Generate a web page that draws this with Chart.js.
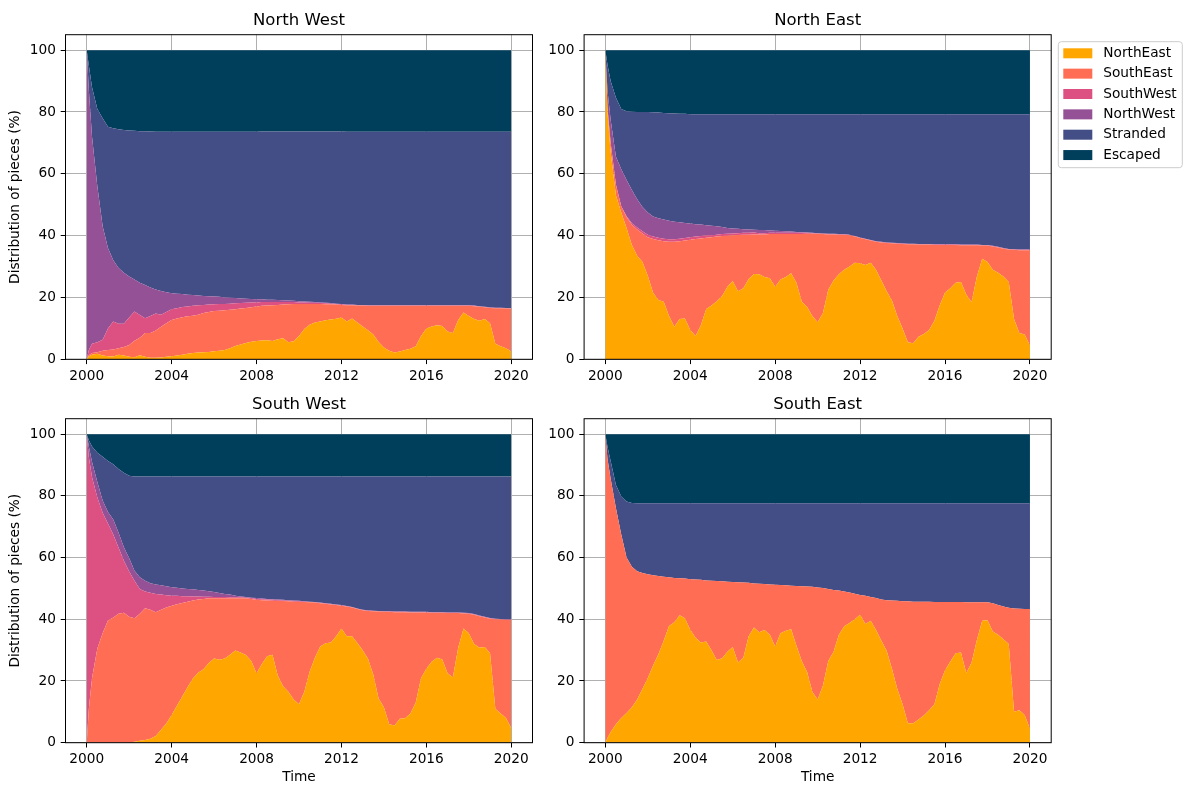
<!DOCTYPE html>
<html>
<head>
<meta charset="utf-8">
<title>Distribution of pieces</title>
<script src="https://cdn.jsdelivr.net/npm/chart.js@4.4.1/dist/chart.umd.min.js"></script>
<style>
    body { margin: 0; background: #fff; }
    #figure { position: relative; width: 1190px; height: 789px; overflow: hidden; }
    #figure canvas { position: absolute; }
</style>
</head>
<body>
<div id="figure">
    <canvas id="north-west" width="560" height="400" style="left:0;top:0"></canvas>
    <canvas id="north-east" width="650" height="400" style="left:540px;top:0"></canvas>
    <canvas id="south-west" width="560" height="400" style="left:0;top:389px"></canvas>
    <canvas id="south-east" width="560" height="400" style="left:540px;top:389px"></canvas>
</div>
<script>
const years = [
    2000, 2000.1, 2000.25, 2000.5, 2000.75,
    2001, 2001.25, 2001.5, 2001.75, 2002, 2002.25, 2002.5, 2002.75,
    2003, 2003.25, 2003.5, 2003.75, 2004, 2004.25, 2004.5, 2004.75,
    2005, 2005.25, 2005.5, 2005.75, 2006, 2006.25, 2006.5, 2006.75,
    2007, 2007.25, 2007.5, 2007.75, 2008, 2008.25, 2008.5, 2008.75,
    2009, 2009.25, 2009.5, 2009.75, 2010, 2010.25, 2010.5, 2010.75,
    2011, 2011.25, 2011.5, 2011.75, 2012, 2012.25, 2012.5, 2012.75,
    2013, 2013.25, 2013.5, 2013.75, 2014, 2014.25, 2014.5, 2014.75,
    2015, 2015.25, 2015.5, 2015.75, 2016, 2016.25, 2016.5, 2016.75,
    2017, 2017.25, 2017.5, 2017.75, 2018, 2018.25, 2018.5, 2018.75,
    2019, 2019.25, 2019.5, 2019.75, 2020
];

const regions = ['NorthEast', 'SouthEast', 'SouthWest', 'NorthWest', 'Stranded', 'Escaped'];
const regionColors = ['#ffa600', '#ff6e54', '#dd5182', '#955196', '#444e86', '#003f5c'];
const xTicks = [2000, 2004, 2008, 2012, 2016, 2020];
const yTicks = [0, 20, 40, 60, 80, 100];

// released in the North West
const nwNorthEast = [
    0, 1, 1.5, 1.8, 1.2, 1, 0.9, 1.5, 1.2, 0.8,
    0.7, 1.3, 0.8, 0.5, 0.5, 0.6, 0.8, 1, 1.2, 1.5,
    1.8, 2, 2.2, 2.3, 2.4, 2.6, 2.8, 3, 3.6, 4.3,
    4.8, 5.3, 5.7, 5.9, 6.1, 6.2, 5.9, 6.5, 6.8, 5.5,
    5.8, 7.5, 9.8, 11.2, 11.9, 12.2, 12.6, 12.9, 13.1, 13.5,
    12.2, 13.2, 11.9, 10.6, 9.4, 8, 5.6, 3.8, 2.8, 2.2,
    2.5, 3, 3.4, 4.2, 7.5, 10, 10.6, 11, 10.8, 9,
    8.5, 12.7, 15.1, 14, 13, 12.5, 13, 11.7, 5, 4.2,
    3.6, 2.5
];
const nwSouthEast = [
    0, 0.3, 0.5, 0.5, 1.6, 2, 2.3, 2.1, 2.8, 3.8,
    5.3, 5.7, 7.7, 8, 8.8, 9.9, 10.9, 11.7, 12, 12.1,
    12.1, 12.1, 12.2, 12.7, 12.9, 13, 12.9, 12.9, 12.4, 11.9,
    11.6, 11.3, 11.1, 11.2, 11.2, 11.2, 11.6, 11.1, 10.9, 12.3,
    12.1, 10.4, 8.1, 6.7, 6, 5.7, 5.2, 4.9, 4.6, 4.1,
    5.3, 4.3, 5.5, 6.8, 7.9, 9.3, 11.7, 13.5, 14.5, 15.1,
    14.8, 14.3, 13.9, 13.1, 9.8, 7.3, 6.7, 6.3, 6.5, 8.3,
    8.8, 4.6, 2.2, 3.3, 4.2, 4.5, 3.8, 4.9, 11.5, 12.3,
    12.8, 13.9
];
const nwSouthWest = [
    0, 1.7, 3, 3.2, 3.5, 7, 9, 7.9, 7.5, 8.9,
    9.5, 7.3, 4.8, 5.5, 5.5, 3.9, 3.6, 3.5, 3.3, 3.3,
    3.2, 3.2, 3.1, 2.6, 2.4, 2.2, 2.2, 2, 2, 1.9,
    1.8, 1.7, 1.6, 1.3, 1.2, 1.1, 1, 0.9, 0.8, 0.7,
    0.6, 0.5, 0.5, 0.4, 0.4, 0.3, 0.3, 0.2, 0.2, 0.2,
    0.1, 0.1, 0.1, 0.1, 0.1, 0.1, 0.1, 0.1, 0.1, 0.1,
    0.1, 0.1, 0.1, 0.1, 0.1, 0.1, 0.1, 0.1, 0.1, 0.1,
    0.1, 0.1, 0.1, 0.1, 0.1, 0.1, 0.1, 0.1, 0.1, 0.1,
    0.1, 0.1
];
const nwNorthWest = [
    100, 84, 67, 50.5, 36.7, 26, 19.8, 18, 16.5, 13.3,
    10.3, 10.5, 10.7, 9.2, 7.8, 7.7, 6.4, 5.2, 4.7, 4.2,
    3.8, 3.5, 3.1, 2.9, 2.7, 2.5, 2.3, 2.1, 1.9, 1.7,
    1.5, 1.3, 1.1, 1, 0.9, 0.8, 0.8, 0.7, 0.6, 0.5,
    0.4, 0.4, 0.3, 0.3, 0.2, 0.2, 0.2, 0.2, 0.1, 0.1,
    0.1, 0.1, 0.1, 0.1, 0.1, 0.1, 0.1, 0.1, 0.1, 0.1,
    0.1, 0.1, 0.1, 0.1, 0.1, 0.1, 0.1, 0.1, 0.1, 0.1,
    0.1, 0.1, 0.1, 0.1, 0.1, 0.1, 0.1, 0.1, 0.1, 0.1,
    0.1, 0.1
];
const nwStranded = [
    0, 8, 16, 25, 35, 39.2, 42.7, 44.9, 46.2, 47.2,
    48.1, 49, 49.8, 50.5, 51, 51.5, 51.9, 52.2, 52.4, 52.5,
    52.7, 52.8, 53, 53.1, 53.2, 53.3, 53.4, 53.6, 53.7, 53.8,
    53.9, 54, 54.1, 54.2, 54.3, 54.4, 54.4, 54.5, 54.6, 54.7,
    54.8, 54.9, 55, 55.1, 55.2, 55.3, 55.4, 55.5, 55.7, 55.8,
    55.9, 55.9, 56, 56, 56.1, 56.1, 56.1, 56.1, 56.1, 56.1,
    56.1, 56.1, 56.1, 56.1, 56.1, 56.1, 56.1, 56.1, 56.1, 56.1,
    56.1, 56.1, 56.1, 56.1, 56.2, 56.4, 56.6, 56.8, 56.9, 56.9,
    57, 57
];
const nwEscaped = [
    0, 5, 12, 19, 22, 24.8, 25.3, 25.6, 25.8, 26,
    26.1, 26.2, 26.2, 26.3, 26.4, 26.4, 26.4, 26.4, 26.4, 26.4,
    26.4, 26.4, 26.4, 26.4, 26.4, 26.4, 26.4, 26.4, 26.4, 26.4,
    26.4, 26.4, 26.4, 26.4, 26.3, 26.3, 26.3, 26.3, 26.3, 26.3,
    26.3, 26.3, 26.3, 26.3, 26.3, 26.3, 26.3, 26.3, 26.3, 26.3,
    26.4, 26.4, 26.4, 26.4, 26.4, 26.4, 26.4, 26.4, 26.4, 26.4,
    26.4, 26.4, 26.4, 26.4, 26.4, 26.4, 26.4, 26.4, 26.4, 26.4,
    26.4, 26.4, 26.4, 26.4, 26.4, 26.4, 26.4, 26.4, 26.4, 26.4,
    26.4, 26.4
];

// released in the North East
const neNorthEast = [
    100, 80, 67, 53, 47.5, 42.5, 37, 33.5, 31.5, 27,
    21.5, 19.2, 18.6, 14, 10.5, 13, 13.2, 9.5, 7.5, 11,
    16.3, 17.4, 18.8, 20.5, 23.5, 25.3, 22, 23, 26, 27.6,
    27.5, 26.6, 26.2, 23.5, 25.8, 26.6, 27.8, 24.8, 18.7, 17,
    14, 12, 15, 22.5, 25.5, 27.5, 29, 30, 31.2, 31.1,
    30.5, 31.2, 29, 25.5, 22, 19, 14, 10, 5.5, 5.2,
    7.3, 8.2, 9.5, 12.5, 17.5, 21.6, 23, 24.8, 25, 21,
    18.5, 26.8, 32.5, 31.5, 29, 28, 26.8, 25, 13, 8.5,
    8, 4.5
];
const neSouthEast = [
    0, 1.5, 3, 3.5, 2, 3.5, 6.5, 8.5, 9.2, 12.5,
    17.4, 19.3, 19.6, 24, 27.5, 25.2, 25.2, 29.2, 31.4, 28.1,
    23, 22.1, 20.9, 19.4, 16.5, 14.8, 18.2, 17.3, 14.3, 12.8,
    12.9, 13.8, 14.3, 17, 14.7, 13.9, 12.7, 15.7, 21.8, 23.6,
    26.6, 28.6, 25.5, 17.9, 14.9, 12.8, 11.3, 10.1, 8.5, 8.1,
    8.3, 7.2, 9, 12.3, 15.6, 18.5, 23.4, 27.3, 31.7, 32,
    29.8, 28.9, 27.6, 24.5, 19.5, 15.4, 14, 12.2, 11.9, 15.9,
    18.4, 10.1, 4.3, 5.3, 7.5, 8.2, 9, 10.5, 22.4, 26.8,
    27.3, 30.8
];
const neSouthWest = [
    0, 0, 0, 0, 0, 0.3, 0.5, 0.6, 0.7, 0.8,
    0.8, 0.8, 0.8, 0.8, 0.8, 0.8, 0.8, 0.8, 0.8, 0.8,
    0.8, 0.6, 0.6, 0.6, 0.6, 0.6, 0.6, 0.6, 0.6, 0.6,
    0.4, 0.4, 0.4, 0.4, 0.4, 0.4, 0.4, 0.4, 0.4, 0.3,
    0.2, 0.1, 0.1, 0.1, 0.1, 0.1, 0.1, 0.1, 0.1, 0.1,
    0.1, 0.1, 0.1, 0.1, 0.1, 0.1, 0.1, 0.1, 0.1, 0.1,
    0.1, 0.1, 0.1, 0.1, 0.1, 0.1, 0.1, 0.1, 0.1, 0.1,
    0.1, 0.1, 0.1, 0.1, 0.1, 0.1, 0.1, 0.1, 0.1, 0.1,
    0.1, 0.1
];
const neNorthWest = [
    0, 5.5, 7.5, 9, 12, 11.7, 10.8, 9.2, 7.9, 7.2,
    6.5, 6.3, 6.2, 6, 5.7, 5.3, 4.9, 4.4, 4, 3.7,
    3.3, 3.1, 2.7, 2.3, 1.9, 1.6, 1.4, 1.2, 1.1, 0.9,
    1, 1, 0.8, 0.7, 0.6, 0.5, 0.4, 0.3, 0.2, 0.1,
    0.1, 0.1, 0.1, 0.1, 0.1, 0.1, 0.1, 0.1, 0.1, 0.1,
    0.1, 0.1, 0.1, 0.1, 0.1, 0.1, 0.1, 0.1, 0.1, 0.1,
    0.1, 0.1, 0.1, 0.1, 0.1, 0.1, 0.1, 0.1, 0.1, 0.1,
    0.1, 0.1, 0.1, 0.1, 0.1, 0.1, 0.1, 0.1, 0.1, 0.1,
    0.1, 0.1
];
const neStranded = [
    0, 8.4, 12.5, 19.1, 19.5, 22.2, 25.3, 28.2, 30.7, 32.5,
    33.7, 34.2, 34.5, 34.8, 35, 35.1, 35.3, 35.4, 35.6, 35.7,
    35.9, 36.1, 36.3, 36.5, 36.8, 37, 37.1, 37.2, 37.3, 37.4,
    37.5, 37.5, 37.6, 37.7, 37.8, 37.9, 38, 38.1, 38.2, 38.3,
    38.4, 38.5, 38.6, 38.7, 38.7, 38.8, 38.8, 39, 39.4, 39.9,
    40.3, 40.7, 41.1, 41.3, 41.5, 41.6, 41.7, 41.8, 41.9, 41.9,
    42, 42, 42, 42.1, 42.1, 42.1, 42.1, 42.1, 42.2, 42.2,
    42.2, 42.2, 42.3, 42.3, 42.6, 42.9, 43.3, 43.6, 43.7, 43.8,
    43.8, 43.8
];
const neEscaped = [
    0, 4.6, 10, 15.4, 19, 19.8, 19.9, 20, 20, 20,
    20.1, 20.2, 20.3, 20.4, 20.5, 20.6, 20.6, 20.7, 20.7, 20.7,
    20.7, 20.7, 20.7, 20.7, 20.7, 20.7, 20.7, 20.7, 20.7, 20.7,
    20.7, 20.7, 20.7, 20.7, 20.7, 20.7, 20.7, 20.7, 20.7, 20.7,
    20.7, 20.7, 20.7, 20.7, 20.7, 20.7, 20.7, 20.7, 20.7, 20.7,
    20.7, 20.7, 20.7, 20.7, 20.7, 20.7, 20.7, 20.7, 20.7, 20.7,
    20.7, 20.7, 20.7, 20.7, 20.7, 20.7, 20.7, 20.7, 20.7, 20.7,
    20.7, 20.7, 20.7, 20.7, 20.7, 20.7, 20.7, 20.7, 20.7, 20.7,
    20.7, 20.7
];

// released in the South West
const swNorthEast = [
    0, 0, 0, 0, 0, 0, 0, 0, 0, 0,
    0.3, 0.6, 0.9, 1.3, 2.2, 4.2, 6.2, 9, 12, 15,
    18, 20.8, 22.7, 23.8, 25.8, 27.3, 26.9, 27.3, 28.5, 29.9,
    29.2, 28.4, 26.5, 22.5, 25.5, 28, 28.5, 21.8, 18.3, 16.5,
    14, 12.5, 16.5, 23, 27.5, 31.2, 32.2, 32.5, 34.5, 37,
    34.5, 34.5, 32.3, 30, 27.2, 22, 14.3, 11.5, 6, 5.6,
    7.8, 7.9, 9.5, 13, 21, 24, 26.2, 27.5, 27, 22.5,
    21.2, 30.8, 37, 35.5, 32, 30.8, 31, 29, 11, 9.5,
    8, 4.7
];
const swSouthEast = [
    0, 11, 21, 30.5, 35.5, 39.6, 40.6, 41.8, 42.1, 40.8,
    40, 41.2, 42.7, 41.8, 40.1, 38.9, 37.6, 35.4, 32.9, 30.3,
    27.7, 25.3, 23.7, 22.8, 21, 19.5, 19.9, 19.5, 18.3, 16.9,
    17.6, 18.4, 20.1, 23.8, 20.7, 18.1, 17.5, 24.1, 27.6, 29.3,
    31.7, 33.1, 29.1, 22.5, 17.9, 14, 12.8, 12.3, 10.1, 7.4,
    9.6, 9.3, 11, 12.9, 15.5, 20.6, 28.2, 30.9, 36.4, 36.7,
    34.5, 34.4, 32.7, 29.2, 21.2, 18.2, 15.9, 14.6, 15.1, 19.5,
    20.8, 11.2, 4.9, 6.3, 9.5, 10.2, 9.6, 11.2, 29, 30.4,
    31.8, 35.1
];
const swSouthWest = [
    100, 81.5, 65, 49, 39, 31.4, 26.9, 21.4, 16.9, 14.7,
    12.2, 8, 5.4, 5.5, 5.9, 4.9, 4, 3.2, 2.7, 2.2,
    1.8, 1.3, 1, 0.7, 0.5, 0.4, 0.4, 0.4, 0.3, 0.3,
    0.3, 0.2, 0.3, 0.3, 0.3, 0.3, 0.3, 0.3, 0.2, 0.2,
    0.2, 0.2, 0.1, 0.1, 0.1, 0.1, 0.1, 0.1, 0.1, 0.1,
    0.1, 0.1, 0.1, 0.1, 0.1, 0.1, 0.1, 0.1, 0.1, 0.1,
    0.1, 0.1, 0.1, 0.1, 0.1, 0.1, 0.1, 0.1, 0.1, 0.1,
    0.1, 0.1, 0.1, 0.1, 0.1, 0.1, 0.1, 0.1, 0.1, 0.1,
    0.1, 0.1
];
const swNorthWest = [
    0, 3.5, 5, 5, 4, 3.8, 4.8, 4.8, 4.3, 4.3,
    3.2, 3.8, 3.5, 3.1, 3.1, 3, 2.9, 2.8, 2.6, 2.5,
    2.3, 2.3, 2.1, 2, 1.8, 1.6, 1.3, 1, 0.9, 0.5,
    0.3, 0.2, 0.1, 0.3, 0.2, 0.2, 0.2, 0.2, 0.2, 0.2,
    0.2, 0.2, 0.1, 0.1, 0.1, 0.1, 0.1, 0.1, 0.1, 0.1,
    0.1, 0.1, 0.1, 0.1, 0.1, 0.1, 0.1, 0.1, 0.1, 0.1,
    0.1, 0.1, 0.1, 0.1, 0.1, 0.1, 0.1, 0.1, 0.1, 0.1,
    0.1, 0.1, 0.1, 0.1, 0.1, 0.1, 0.1, 0.1, 0.1, 0.1,
    0.1, 0.1
];
const swStranded = [
    0, 2, 5, 9.5, 14.2, 16.5, 17.9, 20.7, 24.2, 26.7,
    30.6, 32.7, 33.8, 34.6, 35, 35.3, 35.6, 35.9, 36.1, 36.3,
    36.5, 36.6, 36.8, 37, 37.2, 37.5, 37.8, 38.1, 38.3, 38.7,
    38.9, 39.1, 39.3, 39.4, 39.6, 39.7, 39.8, 39.9, 40, 40.1,
    40.2, 40.3, 40.5, 40.6, 40.7, 40.9, 41.1, 41.3, 41.5, 41.7,
    42, 42.3, 42.8, 43.2, 43.4, 43.5, 43.6, 43.7, 43.7, 43.8,
    43.8, 43.8, 43.9, 43.9, 43.9, 43.9, 44, 44, 44, 44.1,
    44.1, 44.1, 44.2, 44.3, 44.6, 45.1, 45.5, 45.9, 46.1, 46.2,
    46.3, 46.3
];
const swEscaped = [
    0, 2, 4, 6, 7.3, 8.7, 9.8, 11.3, 12.5, 13.5,
    13.7, 13.7, 13.7, 13.7, 13.7, 13.7, 13.7, 13.7, 13.7, 13.7,
    13.7, 13.7, 13.7, 13.7, 13.7, 13.7, 13.7, 13.7, 13.7, 13.7,
    13.7, 13.7, 13.7, 13.7, 13.7, 13.7, 13.7, 13.7, 13.7, 13.7,
    13.7, 13.7, 13.7, 13.7, 13.7, 13.7, 13.7, 13.7, 13.7, 13.7,
    13.7, 13.7, 13.7, 13.7, 13.7, 13.7, 13.7, 13.7, 13.7, 13.7,
    13.7, 13.7, 13.7, 13.7, 13.7, 13.7, 13.7, 13.7, 13.7, 13.7,
    13.7, 13.7, 13.7, 13.7, 13.7, 13.7, 13.7, 13.7, 13.7, 13.7,
    13.7, 13.7
];

// released in the South East
const seNorthEast = [
    0, 1.5, 3.5, 6, 8, 9.6, 11.5, 14, 17.5, 21,
    25, 28.7, 33, 37.8, 39, 41.3, 40.3, 36.6, 34, 32.5,
    32.8, 30, 26.8, 27.4, 29.5, 31, 26, 27.5, 34.5, 37.3,
    35.8, 36.5, 35, 31.2, 35.5, 36.3, 36.8, 31.5, 26.5, 23,
    16.5, 14, 18.5, 26.5, 29.5, 35, 37.7, 38.8, 40, 41.5,
    38.5, 39.5, 36.5, 33, 29.8, 24, 17.5, 12.5, 6.3, 6.3,
    7.5, 8.8, 10.5, 12.5, 19, 23.5, 26.3, 29, 29.2, 22.6,
    26, 33.3, 39.5, 39.7, 36, 35, 33.5, 32, 10, 10.5,
    9, 4.5
];
const seSouthEast = [
    100, 90.5, 82, 70, 59.5, 50.4, 45.5, 41.6, 37.5, 33.6,
    29.3, 25.3, 20.8, 15.8, 14.4, 12, 12.9, 16.4, 18.9, 20.3,
    19.8, 22.5, 25.6, 24.9, 22.7, 21.1, 26, 24.4, 17.3, 14.3,
    15.7, 14.9, 16.3, 20, 15.6, 14.7, 14.1, 19.3, 24.2, 27.6,
    34, 36.3, 31.6, 23.3, 20, 14.3, 11.3, 9.9, 8.3, 6.4,
    9.1, 7.7, 10.4, 13.4, 16.4, 22.1, 28.5, 33.3, 39.5, 39.4,
    38.2, 36.9, 35.2, 33.1, 26.6, 22.1, 19.3, 16.6, 16.4, 22.9,
    19.5, 12.2, 6, 5.8, 9.2, 9.6, 10.6, 11.7, 33.5, 32.9,
    34.3, 38.8
];
const seSouthWest = [
    0, 0, 0, 0, 0, 0, 0, 0, 0, 0,
    0, 0, 0, 0, 0, 0, 0, 0, 0, 0,
    0, 0, 0, 0, 0, 0, 0, 0, 0, 0,
    0, 0, 0, 0, 0, 0, 0, 0, 0, 0,
    0, 0, 0, 0, 0, 0, 0, 0, 0, 0,
    0, 0, 0, 0, 0, 0, 0, 0, 0, 0,
    0, 0, 0, 0, 0, 0, 0, 0, 0, 0,
    0, 0, 0, 0, 0, 0, 0, 0, 0, 0,
    0, 0
];
const seNorthWest = [
    0, 0, 0, 0, 0, 0, 0, 0, 0, 0,
    0, 0, 0, 0, 0, 0, 0, 0, 0, 0,
    0, 0, 0, 0, 0, 0, 0, 0, 0, 0,
    0, 0, 0, 0, 0, 0, 0, 0, 0, 0,
    0, 0, 0, 0, 0, 0, 0, 0, 0, 0,
    0, 0, 0, 0, 0, 0, 0, 0, 0, 0,
    0, 0, 0, 0, 0, 0, 0, 0, 0, 0,
    0, 0, 0, 0, 0, 0, 0, 0, 0, 0,
    0, 0
];
const seStranded = [
    0, 4, 5.8, 7.5, 12.3, 18.2, 20.7, 22, 22.6, 23,
    23.3, 23.6, 23.8, 24, 24.2, 24.3, 24.4, 24.6, 24.7, 24.8,
    25, 25.1, 25.2, 25.3, 25.4, 25.5, 25.6, 25.7, 25.8, 26,
    26.1, 26.2, 26.3, 26.4, 26.5, 26.6, 26.7, 26.8, 26.9, 27,
    27.1, 27.3, 27.5, 27.8, 28.1, 28.3, 28.6, 28.9, 29.3, 29.7,
    30, 30.4, 30.7, 31.2, 31.4, 31.5, 31.6, 31.8, 31.8, 31.9,
    31.9, 31.9, 31.9, 32, 32, 32, 32, 32, 32, 32.1,
    32.1, 32.1, 32.1, 32.1, 32.4, 33, 33.5, 33.9, 34.1, 34.2,
    34.3, 34.3
];
const seEscaped = [
    0, 4, 8.7, 16.5, 20.2, 21.8, 22.3, 22.4, 22.4, 22.4,
    22.4, 22.4, 22.4, 22.4, 22.4, 22.4, 22.4, 22.4, 22.4, 22.4,
    22.4, 22.4, 22.4, 22.4, 22.4, 22.4, 22.4, 22.4, 22.4, 22.4,
    22.4, 22.4, 22.4, 22.4, 22.4, 22.4, 22.4, 22.4, 22.4, 22.4,
    22.4, 22.4, 22.4, 22.4, 22.4, 22.4, 22.4, 22.4, 22.4, 22.4,
    22.4, 22.4, 22.4, 22.4, 22.4, 22.4, 22.4, 22.4, 22.4, 22.4,
    22.4, 22.4, 22.4, 22.4, 22.4, 22.4, 22.4, 22.4, 22.4, 22.4,
    22.4, 22.4, 22.4, 22.4, 22.4, 22.4, 22.4, 22.4, 22.4, 22.4,
    22.4, 22.4
];

Chart.defaults.font.family = '"DejaVu Sans", sans-serif';
Chart.defaults.font.size = 13.7;
Chart.defaults.color = '#000';

// black box around the plot area, like axes spines
const axesFrame = {
    id: 'axesFrame',
    afterDraw(chart) {
        const {ctx, chartArea: area} = chart;
        ctx.save();
        ctx.strokeStyle = '#000';
        ctx.lineWidth = 1;
        ctx.strokeRect(area.left, area.top, area.right - area.left, area.bottom - area.top);
        ctx.restore();
    }
};

// framed legend drawn in the free space right of the plot
const boxedLegend = {
    id: 'boxedLegend',
    afterDraw(chart, args, opts) {
        const {ctx} = chart;
        ctx.save();
        ctx.beginPath();
        ctx.roundRect(opts.x, opts.y, opts.width, opts.height, 3);
        ctx.fillStyle = 'rgba(255, 255, 255, 0.8)';
        ctx.fill();
        ctx.strokeStyle = '#cccccc';
        ctx.lineWidth = 1;
        ctx.stroke();

        ctx.font = '13.7px "DejaVu Sans"';
        ctx.textBaseline = 'middle';
        chart.data.datasets.forEach((dataset, i) => {
            const rowY = opts.y + opts.firstRow + i * opts.rowHeight;
            ctx.fillStyle = dataset.backgroundColor;
            ctx.fillRect(opts.x + 5, rowY - 5, 29, 10);
            ctx.fillStyle = '#000';
            ctx.fillText(dataset.label, opts.x + 45, rowY);
        });
        ctx.restore();
    }
};

class Main {
    constructor() {
        this.northWest = document.getElementById('north-west');
        this.northEast = document.getElementById('north-east');
        this.southWest = document.getElementById('south-west');
        this.southEast = document.getElementById('south-east');

        this.initCharts();
    }

    initCharts() {
        this.initPanel(this.northWest, 'North West',
            [nwNorthEast, nwSouthEast, nwSouthWest, nwNorthWest, nwStranded, nwEscaped],
            {yTitle: true, xTitle: false, yWidth: 65.5, xHeight: 40.7, right: 27.5, titleTop: 10.9});
        this.initPanel(this.northEast, 'North East',
            [neNorthEast, neSouthEast, neSouthWest, neNorthWest, neStranded, neEscaped],
            {yTitle: false, xTitle: false, yWidth: 44.1, xHeight: 40.7, right: 138.8, titleTop: 10.9,
             legend: {x: 518.3, y: 41.7, width: 124, height: 126, firstRow: 11.6, rowHeight: 20.35}});
        this.initPanel(this.southWest, 'South West',
            [swNorthEast, swSouthEast, swSouthWest, swNorthWest, swStranded, swEscaped],
            {yTitle: true, xTitle: true, yWidth: 65.5, xHeight: 46.3, right: 27.5, titleTop: 5.9});
        this.initPanel(this.southEast, 'South East',
            [seNorthEast, seSouthEast, seSouthWest, seNorthWest, seStranded, seEscaped],
            {yTitle: false, xTitle: true, yWidth: 44.1, xHeight: 46.3, right: 48.8, titleTop: 5.9});
    }

    initPanel(canvas, title, series, panel) {
        const grid = {color: '#b0b0b0', lineWidth: 1, tickColor: '#000', tickLength: 4.8, tickWidth: 1};
        const config = {
            type: 'line',
            data: {
                labels: years,
                datasets: regions.map((name, i) => ({
                    label: name,
                    data: series[i],
                    backgroundColor: regionColors[i],
                    borderColor: regionColors[i],
                    borderWidth: 0,
                    pointRadius: 0,
                    pointHoverRadius: 0,
                    tension: 0,
                    fill: i === 0 ? 'origin' : '-1',
                }))
            },
            options: {
                responsive: false,
                animation: false,
                events: [],
                layout: {padding: {left: 0, right: panel.right, top: 0, bottom: 0}},
                scales: {
                    x: {
                        type: 'linear',
                        min: 1999,
                        max: 2021,
                        bounds: 'data',
                        z: 1,
                        grid: grid,
                        border: {display: false},
                        afterBuildTicks: (scale) => { scale.ticks = xTicks.map(v => ({value: v})); },
                        ticks: {maxRotation: 0, autoSkip: false, padding: 3.9, callback: (v) => String(v)},
                        title: {display: panel.xTitle, text: 'Time', padding: {top: 0, bottom: 3}},
                        afterFit: (scale) => { scale.height = panel.xHeight; },
                    },
                    y: {
                        stacked: true,
                        min: 0,
                        max: 105,
                        bounds: 'data',
                        z: 1,
                        grid: grid,
                        border: {display: false},
                        afterBuildTicks: (scale) => { scale.ticks = yTicks.map(v => ({value: v})); },
                        ticks: {padding: 4.8, callback: (v) => String(v)},
                        title: {display: panel.yTitle, text: 'Distribution of pieces (%)', padding: {top: 7.1, bottom: 0}},
                        afterFit: (scale) => { scale.width = panel.yWidth; },
                    }
                },
                plugins: {
                    legend: {display: false},
                    tooltip: {enabled: false},
                    title: {
                        display: true,
                        text: title,
                        fullSize: false,
                        font: {size: 16.5, weight: 'normal'},
                        padding: {top: panel.titleTop, bottom: 4},
                    },
                    boxedLegend: panel.legend || {},
                }
            },
            plugins: panel.legend ? [axesFrame, boxedLegend] : [axesFrame],
        };
        new Chart(canvas, config);
    }
}

window.onload = () => {
    new Main();
}
</script>
</body>
</html>
